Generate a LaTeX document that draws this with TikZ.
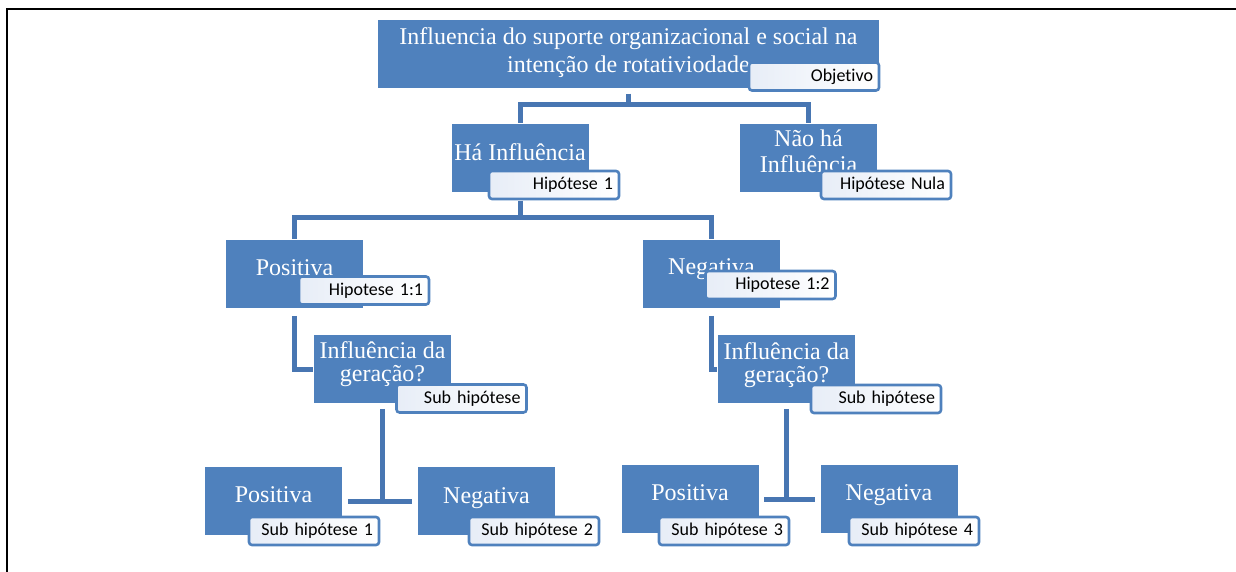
\documentclass[tikz,border=0pt]{standalone}
\usepackage{fontspec}
\setmainfont{Liberation Serif}
\newfontfamily\tagfont[Ligatures=NoCommon]{Carlito}
\definecolor{boxblue}{RGB}{79,129,189}
\definecolor{linkblue}{RGB}{72,118,178}
\definecolor{tagfill}{RGB}{231,237,247}

\tikzset{every picture/.style={line width=0.75pt}}
\tikzset{
  hbox/.style={fill=boxblue, minimum width=68.5pt, minimum height=34pt, inner sep=0pt},
  hlbl/.style={text=white, inner sep=0pt, anchor=base, align=center, font=\fontsize{12}{13}\selectfont},
  htag/.style={draw=boxblue, line width=1.3pt, rounded corners=1.5pt, left color=tagfill, right color=white,
    minimum height=14pt, text width=59pt, inner xsep=3pt, inner ysep=0pt, align=right,
    text height=6.6pt, text depth=1.9pt, font=\tagfont\fontsize{9}{10}\selectfont},
  link/.style={draw=linkblue, line width=2.5pt}
}

\begin{document}
\begin{tikzpicture}[x=0.5pt,y=0.5pt,yscale=-1]
  \useasboundingbox (0,0) rectangle (1236,572);
  %frame
  \draw[line width=0.6pt] (7,572) -- (7,9) -- (1236,9);

  %Shape: Rectangle [objetivo]
  \node[hbox, minimum width=250.5pt] (obj) at (628.5,54) {};
  %Shape: Rectangle [hipotese 1 / nula]
  \node[hbox] (hi) at (520,158) {};
  \node[hbox] (nhi) at (808.5,158) {};
  %Shape: Rectangle [positiva / negativa]
  \node[hbox] (pos1) at (294.5,274) {};
  \node[hbox] (neg1) at (711.5,274) {};
  %Shape: Rectangle [geracao]
  \node[hbox] (ger1) at (382.5,369) {};
  \node[hbox] (ger2) at (786.5,369) {};
  %Shape: Rectangle [sub hipoteses]
  \node[hbox] (bp1) at (273.5,501) {};
  \node[hbox] (bn1) at (486.5,501) {};
  \node[hbox] (bp2) at (690,499) {};
  \node[hbox] (bn2) at (889,499) {};

  %Connectors (yscale=-1, so a positive yshift goes down)
  \draw[link] ([yshift=2.5pt]obj.south) -- ++(0,11) coordinate (j1);
  \draw[link] (j1) -| (hi.north);
  \draw[link] (j1) -| (nhi.north);
  \draw[link] ([yshift=4pt]hi.south) -- ++(0,17) coordinate (j2);
  \draw[link] (j2) -| (pos1.north);
  \draw[link] (j2) -| (neg1.north);
  \draw[link] ([yshift=3.5pt]pos1.south) |- (ger1.west);
  \draw[link] ([yshift=3.5pt]neg1.south) |- (ger2.west);
  \draw[link] ([yshift=2.5pt]ger1.south) -- (ger1.south |- bp1.east);
  \draw[link] ([xshift=2.5pt]bp1.east) -- ([xshift=-2.5pt]bn1.west);
  \draw[link] ([yshift=2.5pt]ger2.south) -- (ger2.south |- bp2.east);
  \draw[link] ([xshift=2.5pt]bp2.east) -- ([xshift=-2.5pt]bn2.west);

  % Text Node
  \node[hlbl, font=\fontsize{12}{14}\selectfont] (obj-t) at (628.5,73) {Influencia do suporte organizacional e social na\\intenção de rotativiodade};
  % Text Node
  \node[hlbl] (hi-t) at (520,161) {Há Influência};
  % Text Node
  \node[hlbl, font=\fontsize{12}{13}\selectfont] (nhi-t) at (808.5,173) {Não há\\Influência};
  % Text Node
  \node[hlbl] (pos1-t) at (294.5,276) {Positiva};
  % Text Node
  \node[hlbl] (neg1-t) at (711.5,275) {Negativa};
  % Text Node
  \node[hlbl, font=\fontsize{12}{11.5}\selectfont] (ger1-t) at (382.5,381) {Influência da\\geração?};
  % Text Node
  \node[hlbl, font=\fontsize{12}{11.5}\selectfont] (ger2-t) at (786.5,382) {Influência da\\geração?};
  % Text Node
  \node[hlbl] (bp1-t) at (273.5,502) {Positiva};
  % Text Node
  \node[hlbl] (bn1-t) at (486.5,503) {Negativa};
  % Text Node
  \node[hlbl] (bp2-t) at (690,500) {Positiva};
  % Text Node
  \node[hlbl] (bn2-t) at (889,500) {Negativa};

  %Tags
  \node[htag] (obj-h) at (814,76.5) {Objetivo};
  \node[htag] (hi-h) at (554,185) {Hipótese 1};
  \node[htag] (nhi-h) at (886,185) {Hipótese Nula};
  \node[htag] (pos1-h) at (364,290.5) {Hipotese 1:1};
  \node[htag] (neg1-h) at (770.5,285) {Hipotese 1:2};
  \node[htag] (ger1-h) at (461.5,398.5) {Sub hipótese};
  \node[htag] (ger2-h) at (876,399) {Sub hipótese};
  \node[htag] (bp1-h) at (314,531) {Sub hipótese 1};
  \node[htag] (bn1-h) at (534,531) {Sub hipótese 2};
  \node[htag] (bp2-h) at (724,531) {Sub hipótese 3};
  \node[htag] (bn2-h) at (914,531) {Sub hipótese 4};
\end{tikzpicture}
\end{document}
